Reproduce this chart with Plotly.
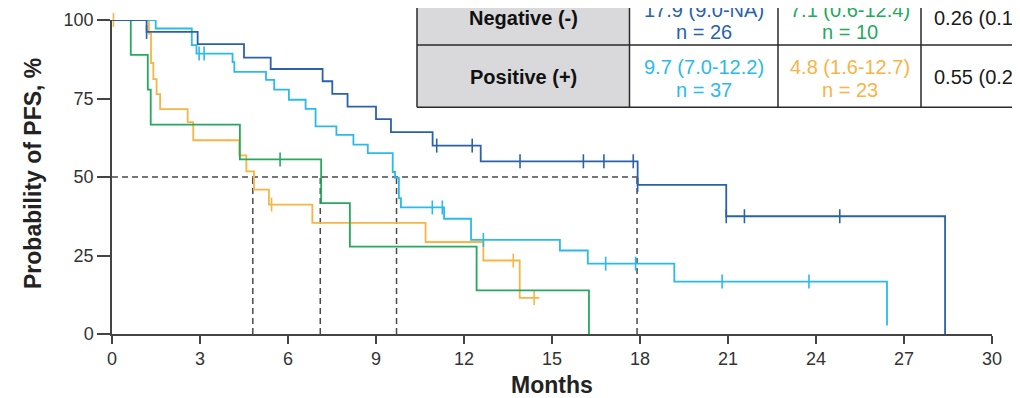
import plotly.graph_objects as go

# ---------------- data ----------------
neg_target_t = [0, 1.18, 2.92, 4.5, 5.41, 7.18, 7.51, 8.03, 9.0, 9.51, 10.93, 12.57, 17.92, 20.94, 28.4]
neg_target_s = [100, 96.2, 92.3, 88.0, 84.4, 80.5, 76.5, 72.4, 68.4, 64.3, 60.0, 55.0, 47.5, 37.5, 0]
neg_target_c = [1.18, 11.07, 12.28, 13.91, 16.07, 16.77, 17.77, 17.92, 20.94, 21.56, 24.81]

pos_target_t = [0, 1.49, 2.72, 2.88, 4.11, 4.17, 5.25, 5.53, 6.03, 6.6, 6.94, 7.65, 8.23, 8.72,
                9.57, 9.65, 9.78, 9.85, 11.32, 12.24, 15.27, 16.22, 19.17, 26.42]
pos_target_s = [100, 97.3, 92.0, 89.3, 86.6, 83.5, 80.9, 77.8, 74.6, 71.7, 66.1, 63.4, 60.3, 57.6,
                51.6, 49.7, 43.3, 40.3, 36.7, 30.0, 26.6, 22.4, 16.7, 2.7]
pos_target_c = [2.97, 3.14, 10.92, 11.26, 12.66, 16.83, 17.85, 20.8, 23.76]

neg_ctrl_t = [0, 0.64, 1.22, 1.32, 4.36, 7.13, 8.11, 12.43, 16.26]
neg_ctrl_s = [100, 88.9, 77.8, 66.7, 55.6, 41.7, 27.8, 13.9, 0]
neg_ctrl_c = [5.73]

pos_ctrl_t = [0, 1.26, 1.33, 1.41, 1.52, 1.64, 2.58, 2.77, 4.34, 4.58, 4.84, 5.35, 6.83, 10.69, 12.66, 13.9, 14.57]
pos_ctrl_s = [100, 95.7, 86.3, 81.2, 76.4, 71.6, 67.5, 61.7, 56.9, 51.8, 46.0, 41.2, 35.4, 29.3, 23.4, 11.5, 11.5]
pos_ctrl_c = [0.05, 5.44, 13.68, 14.39]

medians = [4.8, 7.1, 9.7, 17.9]

x_ticks = [0, 3, 6, 9, 12, 15, 18, 21, 24, 27, 30]
y_ticks = [0, 25, 50, 75, 100]

row_labels = ["Negative (-)", "Positive (+)"]
col_target = [("17.9 (9.0-NA)", "n = 26"), ("9.7 (7.0-12.2)", "n = 37")]
col_ctrl = [("7.1 (0.6-12.4)", "n = 10"), ("4.8 (1.6-12.7)", "n = 23")]
col_hr = ["0.26 (0.10", "0.55 (0.29"]

C_DARK = "#2a62aa"
C_LIGHT = "#2bbaec"
C_GREEN = "#24a95e"
C_ORANGE = "#f8b445"
C_DASH = "#4a4a4a"
FONT = "Liberation Sans, Arial, sans-serif"


def step_at(ts, ss, t):
    v = ss[0]
    for ti, si in zip(ts, ss):
        if ti <= t:
            v = si
    return v


fig = go.Figure()

# median guide lines
fig.add_trace(go.Scatter(x=[0, max(medians)], y=[50, 50], mode="lines",
                         line=dict(color=C_DASH, width=1.5, dash="6px,4px"),
                         hoverinfo="skip", showlegend=False, cliponaxis=False))
for m in medians:
    fig.add_trace(go.Scatter(x=[m, m], y=[0, 50], mode="lines",
                             line=dict(color=C_DASH, width=1.5, dash="6px,4px"),
                             hoverinfo="skip", showlegend=False, cliponaxis=False))

curves = [
    (pos_ctrl_t, pos_ctrl_s, pos_ctrl_c, C_ORANGE),
    (neg_ctrl_t, neg_ctrl_s, neg_ctrl_c, C_GREEN),
    (pos_target_t, pos_target_s, pos_target_c, C_LIGHT),
    (neg_target_t, neg_target_s, neg_target_c, C_DARK),
]
for ts, ss, cs, col in curves:
    fig.add_trace(go.Scatter(x=ts, y=ss, mode="lines", line=dict(color=col, width=1.8, shape="hv"),
                             showlegend=False, cliponaxis=False))
    fig.add_trace(go.Scatter(x=cs, y=[step_at(ts, ss, c) for c in cs], mode="markers",
                             marker=dict(symbol="line-ns-open", size=10, color=col,
                                         line=dict(color=col, width=1.6)),
                             showlegend=False, cliponaxis=False))

# ---------------- layout geometry (page pixels; page body has an 8px margin) ----------------
OFF = 8
FIG_W, FIG_H = 1020 - OFF, 398 - OFF
L, R, T, B = 112, 992, 20, 334   # plot area in page pixels


def px(x):
    return (x - L) / (R - L)


def py(y):
    return (B - y) / (B - T)


shapes = []
tab_left, tab_c1, tab_c2, tab_c3, tab_right = 417, 629.5, 778, 921, 1040
row_top, row_mid, row_bot = -20, 45, 107.3
shapes.append(dict(type="rect", xref="paper", yref="paper", x0=px(tab_left), x1=px(tab_right),
                   y0=py(row_bot), y1=py(row_top), fillcolor="white", line=dict(width=0), layer="above"))
shapes.append(dict(type="rect", xref="paper", yref="paper", x0=px(tab_left), x1=px(tab_c1),
                   y0=py(row_bot), y1=py(row_top), fillcolor="#d9d9db", line=dict(width=0), layer="above"))
for xv in [tab_left, tab_c1, tab_c2, tab_c3]:
    shapes.append(dict(type="line", xref="paper", yref="paper", x0=px(xv), x1=px(xv),
                       y0=py(row_bot), y1=py(row_top), line=dict(color="#2a2a2a", width=1.5), layer="above"))
for yv in [row_mid, row_bot]:
    shapes.append(dict(type="line", xref="paper", yref="paper", x0=px(tab_left), x1=px(tab_right),
                       y0=py(yv), y1=py(yv), line=dict(color="#2a2a2a", width=1.5), layer="above"))

annotations = []
row_centers = [18, 77]
first_line_dy = [-8, -10]
second_line_dy = [14, 13]


def ann(text, xpix, ypix, color, size, xanchor="center", bold=False, angle=0):
    return dict(text=("<b>" + text + "</b>") if bold else text, x=px(xpix), y=py(ypix),
                xref="paper", yref="paper", xanchor=xanchor, yanchor="middle", showarrow=False,
                textangle=angle, font=dict(family=FONT, size=size, color=color))


for i, yc in enumerate(row_centers):
    annotations.append(ann(row_labels[i], (tab_left + tab_c1) / 2, yc, "#111111", 20, bold=True))
    for (txts, col, xc) in [(col_target[i], C_DARK if i == 0 else C_LIGHT, (tab_c1 + tab_c2) / 2),
                            (col_ctrl[i], C_GREEN if i == 0 else C_ORANGE, (tab_c2 + tab_c3) / 2)]:
        annotations.append(ann(txts[0], xc, yc + first_line_dy[i], col, 20))
        annotations.append(ann(txts[1], xc, yc + second_line_dy[i], col, 20))
    annotations.append(ann(col_hr[i], 932, yc, "#1a1a1a", 20, xanchor="left"))

# axis titles
annotations.append(ann("Months", (L + R) / 2, 385, "#222222", 23, bold=True))
annotations.append(ann("Probability of PFS, %", 33, 174, "#222222", 23, bold=True, angle=-90))

fig.update_layout(
    width=FIG_W, height=FIG_H,
    margin=dict(l=L - OFF, r=FIG_W - (R - OFF), t=T - OFF, b=FIG_H - (B - OFF), autoexpand=False),
    paper_bgcolor="white", plot_bgcolor="white",
    shapes=shapes, annotations=annotations,
    font=dict(family=FONT, color="#333333"),
    xaxis=dict(range=[0, 30], tickvals=x_ticks, ticks="outside", ticklen=8, tickwidth=1.5,
               tickcolor="#444444", showline=True, linecolor="#444444", linewidth=1.5,
               showgrid=False, zeroline=False, tickfont=dict(size=18, color="#333333"),
               automargin=False),
    yaxis=dict(range=[0, 100], tickvals=y_ticks, ticks="outside", ticklen=13, tickwidth=1.5,
               tickcolor="#444444", showline=True, linecolor="#444444", linewidth=1.5,
               showgrid=False, zeroline=False, tickfont=dict(size=18, color="#333333"),
               automargin=False),
)

fig.write_html("out.html")
